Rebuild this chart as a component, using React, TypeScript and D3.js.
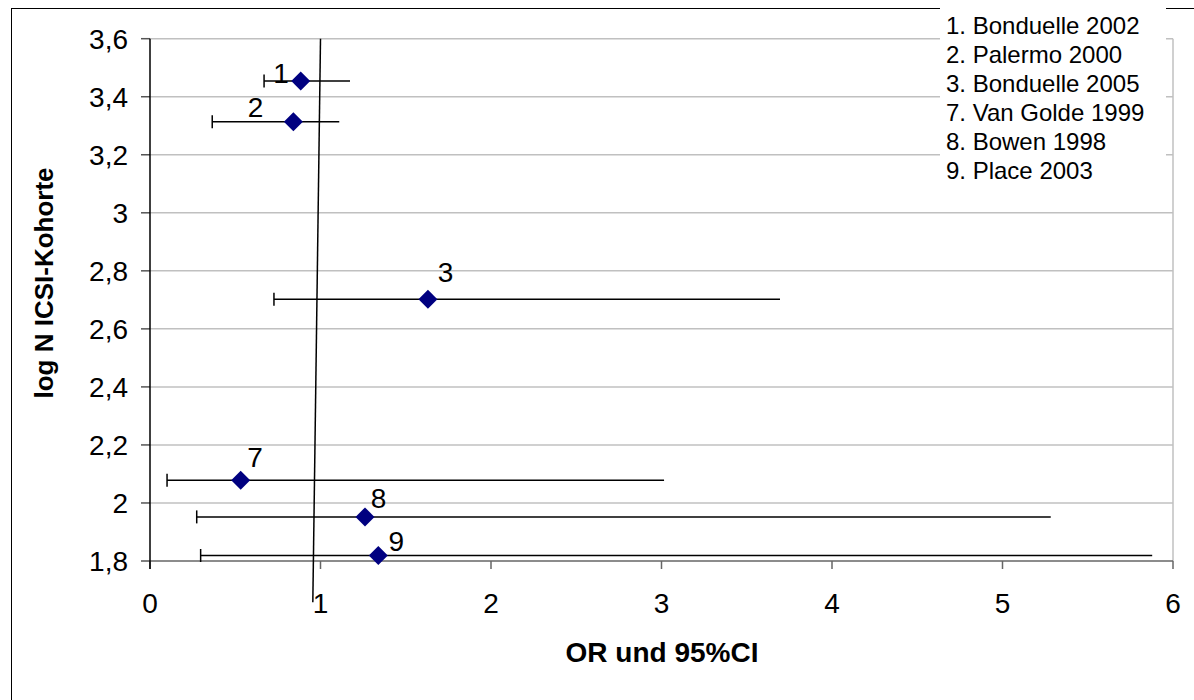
import React, { useEffect } from "react";
import * as d3 from "d3";

// ---- data ----
const studyIds = ["1", "2", "3", "7", "8", "9"];
const legendNames = [
  "1. Bonduelle 2002",
  "2. Palermo 2000",
  "3. Bonduelle 2005",
  "7. Van Golde 1999",
  "8. Bowen 1998",
  "9. Place 2003",
];
const orValues = [0.884, 0.841, 1.63, 0.532, 1.261, 1.339];
const logN = [3.454, 3.314, 2.702, 2.078, 1.952, 1.819];
const ciLower = [0.669, 0.365, 0.727, 0.1, 0.274, 0.297];
const ciUpper = [1.173, 1.11, 3.695, 3.015, 5.283, 5.878];
// label anchor positions (data units)
const labelX = [0.768, 0.619, 1.734, 0.616, 1.34, 1.445];
const labelY = [3.447, 3.33, 2.761, 2.123, 1.982, 1.833];
// reference line (OR = 1), drawn slightly slanted in the original
const refLineX = [1.0, 0.955];
const refLineY = [3.6, 1.658];

const xTicks = [0, 1, 2, 3, 4, 5, 6];
const xTickLabels = ["0", "1", "2", "3", "4", "5", "6"];
const yTicks = [1.8, 2.0, 2.2, 2.4, 2.6, 2.8, 3.0, 3.2, 3.4, 3.6];
const yTickLabels = ["1,8", "2", "2,2", "2,4", "2,6", "2,8", "3", "3,2", "3,4", "3,6"];

const xTitle = "OR und 95%CI";
const yTitle = "log N ICSI-Kohorte";

const W = 1194;
const H = 700;
const FONT = "'Liberation Sans', Arial, Helvetica, sans-serif";

export default function App() {
  useEffect(() => {
    document.body.style.margin = "0";
  }, []);

  const x = d3.scaleLinear().domain([0, 6]).range([150, 1173]);
  const y = d3.scaleLinear().domain([1.8, 3.6]).range([561, 38.7]);

  const refLine = d3
    .line<number>()
    .x((_, i) => x(refLineX[i]))
    .y((_, i) => y(refLineY[i]));

  const diamond = d3.symbol().type(d3.symbolDiamond2).size(230)();

  return (
    <svg
      width={W}
      height={H}
      style={{ position: "absolute", left: 0, top: 0, background: "#fff" }}
      fontFamily={FONT}
    >
      <rect x={0} y={0} width={W} height={H} fill="#fff" />
      {/* outer chart border */}
      <rect x={11.5} y={8.5} width={1300} height={800} fill="none" stroke="#000" strokeWidth={1} />

      {/* gridlines */}
      {yTicks
        .filter((t) => t > 1.8)
        .map((t) => (
          <line
            key={"g" + t}
            x1={x(0)}
            x2={x(6)}
            y1={y(t)}
            y2={y(t)}
            stroke="#c0c0c0"
            strokeWidth={1.5}
          />
        ))}
      {/* plot area right border */}
      <line x1={x(6)} x2={x(6)} y1={y(3.6)} y2={y(1.8)} stroke="#c0c0c0" strokeWidth={1.5} />

      {/* x axis */}
      <line x1={x(0)} x2={x(6)} y1={y(1.8)} y2={y(1.8)} stroke="#666" strokeWidth={1.5} />
      {xTicks.map((t, i) => (
        <g key={"xt" + t}>
          <line x1={x(t)} x2={x(t)} y1={y(1.8)} y2={y(1.8) + 8} stroke="#666" strokeWidth={1.5} />
          <text x={x(t)} y={613} fontSize={28} textAnchor="middle" fill="#000">
            {xTickLabels[i]}
          </text>
        </g>
      ))}

      {/* y axis */}
      {yTicks.map((t, i) => (
        <g key={"yt" + t}>
          <line x1={x(0) - 9} x2={x(0)} y1={y(t)} y2={y(t)} stroke="#555" strokeWidth={1.5} />
          <text x={128} y={y(t) + 10} fontSize={28} textAnchor="end" fill="#000">
            {yTickLabels[i]}
          </text>
        </g>
      ))}
      <line x1={x(0)} x2={x(0)} y1={y(3.6)} y2={y(1.8) + 8} stroke="#000" strokeWidth={1.5} />

      {/* reference line */}
      <path d={refLine(refLineX) || ""} fill="none" stroke="#000" strokeWidth={1.5} />

      {/* error bars */}
      {orValues.map((_, i) => (
        <g key={"e" + i}>
          <line
            x1={x(ciLower[i])}
            x2={x(ciUpper[i])}
            y1={y(logN[i])}
            y2={y(logN[i])}
            stroke="#000"
            strokeWidth={1.5}
          />
          <line
            x1={x(ciLower[i])}
            x2={x(ciLower[i])}
            y1={y(logN[i]) - 6.5}
            y2={y(logN[i]) + 6.5}
            stroke="#000"
            strokeWidth={1.5}
          />
        </g>
      ))}

      {/* points */}
      {orValues.map((v, i) => (
        <path
          key={"p" + i}
          d={diamond || ""}
          transform={`translate(${x(v)},${y(logN[i])})`}
          fill="#000080"
        />
      ))}

      {/* point labels */}
      {studyIds.map((id, i) => (
        <text
          key={"l" + i}
          x={x(labelX[i])}
          y={y(labelY[i])}
          fontSize={28}
          textAnchor="middle"
          fill="#000"
        >
          {id}
        </text>
      ))}

      {/* legend */}
      <rect x={940} y={0} width={226} height={190} fill="#fff" />
      {legendNames.map((n, i) => (
        <text key={"lg" + i} x={946} y={34 + i * 29} fontSize={24} fill="#000">
          {n}
        </text>
      ))}

      {/* axis titles */}
      <text x={662} y={662} fontSize={28} fontWeight="bold" textAnchor="middle" fill="#000">
        {xTitle}
      </text>
      <text
        transform={`translate(53,283) rotate(-90)`}
        fontSize={26}
        fontWeight="bold"
        textAnchor="middle"
        fill="#000"
      >
        {yTitle}
      </text>
    </svg>
  );
}
